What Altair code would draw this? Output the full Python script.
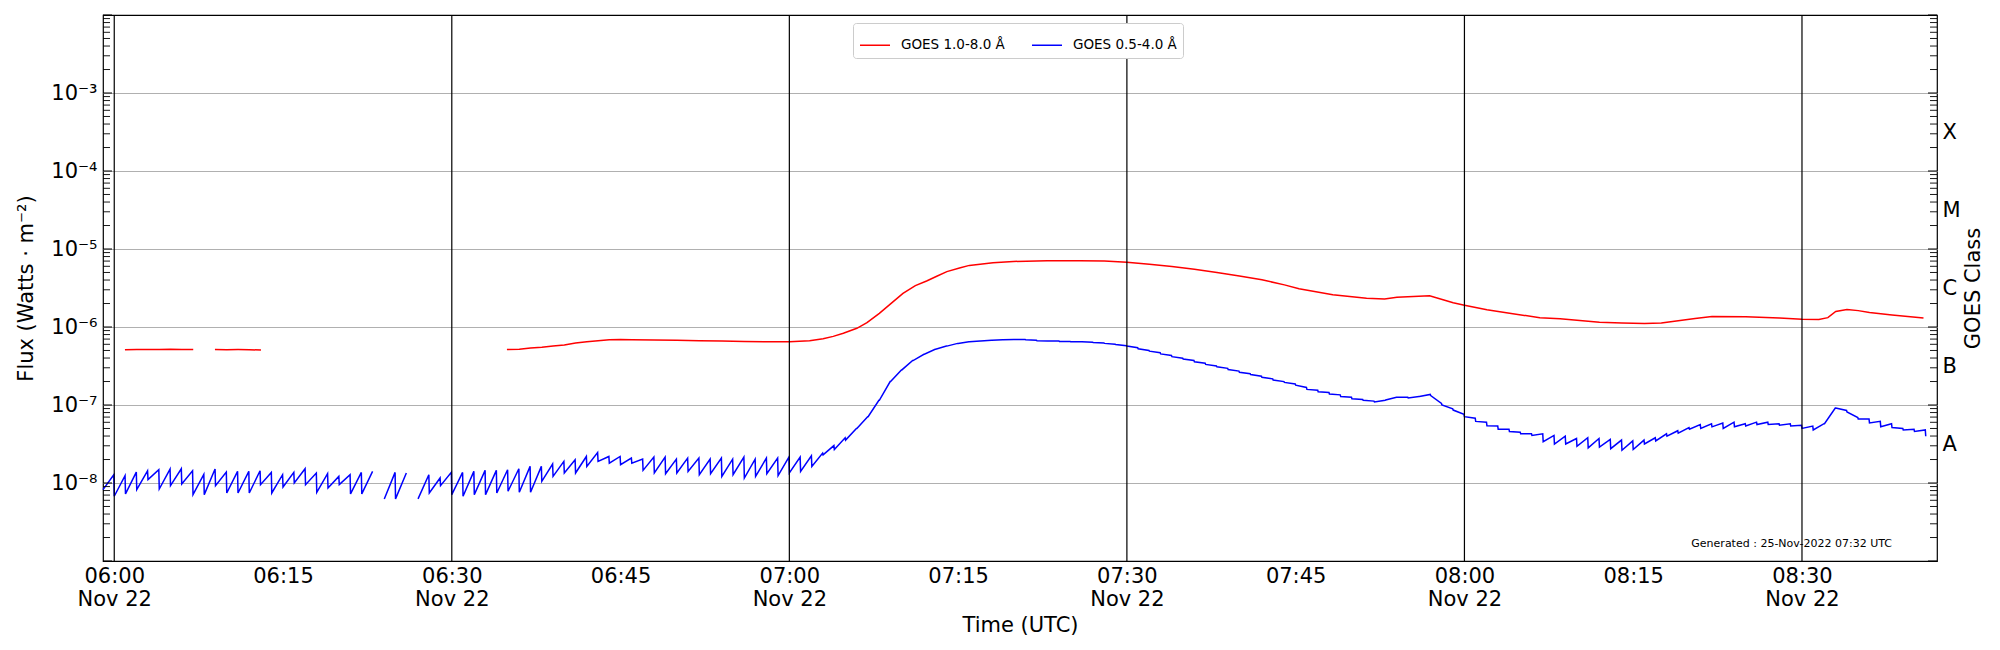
import altair as alt
import pandas as pd

RED = "GOES 1.0-8.0 Å"
BLUE = "GOES 0.5-4.0 Å"
GEN_TEXT = "Generated : 25-Nov-2022 07:32 UTC"

# ---- GOES 1.0-8.0 Å : minutes after 06:00 UTC and log10(flux); None = data gap
red_minutes = [0.95, 2, 3, 4, 5, 6, 7.02, None,
               8.95, 10, 11, 12, 13.04, None,
               34.9, 36, 37, 38, 39, 40, 41, 42, 43, 44, 45, 46, 48, 50, 52, 54, 56, 58, 60,
               61.8, 63.0, 63.9, 64.8, 66.0, 66.9, 68.0, 69.1, 70.1, 71.2, 72.2, 73.1, 74.0,
               75.2, 76.0, 78.1, 79.9, 82.9, 85.8,
               88, 90, 92, 94, 96, 98, 100, 102, 104,
               105.3, 108.3, 111.3, 112.9, 114.0, 116.9, 118.1, 119.0, 120.0, 122.0, 124.3,
               126.7, 128.5,
               132, 134, 136, 137.5, 139, 140.5, 142, 145, 148, 150, 151.5, 152.3, 153.0,
               154.0, 155, 156, 158, 160.8]
red_log10 = [-6.292, -6.29, -6.288, -6.287, -6.285, -6.288, -6.29, None,
             -6.29, -6.292, -6.29, -6.291, -6.295, None,
             -6.29, -6.285, -6.27, -6.26, -6.245, -6.23, -6.205, -6.19, -6.175, -6.165,
             -6.16, -6.163, -6.166, -6.17, -6.175, -6.18, -6.185, -6.19, -6.19,
             -6.176, -6.15, -6.12, -6.08, -6.017, -5.945, -5.825, -5.69, -5.57, -5.47,
             -5.41, -5.35, -5.29, -5.24, -5.21, -5.175, -5.16, -5.15, -5.15,
             -5.155, -5.17, -5.195, -5.225, -5.26, -5.30, -5.345, -5.395, -5.46,
             -5.51, -5.586, -5.63, -5.64, -5.62, -5.60, -5.65, -5.69, -5.72, -5.78, -5.83,
             -5.88, -5.895,
             -5.94, -5.95, -5.955, -5.95, -5.92, -5.89, -5.865, -5.87, -5.885, -5.90,
             -5.905, -5.88, -5.80, -5.775, -5.79, -5.815, -5.845, -5.885]

# ---- GOES 0.5-4.0 Å : one entry per minute, starting at 05:59 UTC.
# value at the start of the minute and value at its end (log10 flux); None = gap
blue_start = [
    -8.085, -8.170, -8.140, -8.085, -7.957, -8.077, -8.034, -8.013, -8.149, -8.149,
    -8.034, -8.128, -8.128, -8.128, -8.021, -8.128, -8.051, -8.000, -8.021, -8.119,
    -8.064, -8.021, -8.140, -8.140, None, -8.204, -8.204, None, -8.204, -8.128,
    -8.034, -8.149, -8.170, -8.149, -8.149, -8.128, -8.106, -8.119, -8.119, -7.979,
    -7.915, -7.872, -7.872, -7.787, -7.723, -7.745, -7.766, -7.745, -7.838, -7.872,
    -7.881, -7.872, -7.851, -7.894, -7.881, -7.915, -7.894, -7.936, -7.915, -7.881,
    -7.906, -7.872, -7.851, -7.787, -7.64, -7.57, -7.45, -7.30, -7.15, -6.94,
    -6.70, -6.55, -6.43, -6.35, -6.285, -6.245, -6.21, -6.19, -6.178, -6.17,
    -6.165, -6.16, -6.165, -6.175, -6.18, -6.185, -6.19, -6.19, -6.20, -6.21,
    -6.225, -6.245, -6.28, -6.31, -6.345, -6.38, -6.41, -6.445, -6.48, -6.51,
    -6.545, -6.58, -6.61, -6.645, -6.68, -6.71, -6.745, -6.80, -6.83, -6.86,
    -6.89, -6.92, -6.94, -6.96, -6.935, -6.90, -6.91, -6.89, -6.88, -7.00,
    -7.065, -7.15, -7.21, -7.265, -7.31, -7.34, -7.37, -7.39, -7.47, -7.50,
    -7.50, -7.53, -7.55, -7.54, -7.56, -7.58, -7.57, -7.50, -7.46, -7.40,
    -7.36, -7.31, -7.30, -7.28, -7.30, -7.28, -7.27, -7.25, -7.25, -7.26,
    -7.27, -7.30, -7.32, -7.24, -7.04, -7.09, -7.18, -7.23, -7.28, -7.29,
    -7.32, -7.34, -7.40]
blue_end = [
    -7.894, -7.906, -7.860, -7.843, -7.830, -7.821, -7.817, -7.843, -7.889, -7.821,
    -7.860, -7.851, -7.851, -7.843, -7.864, -7.894, -7.864, -7.817, -7.872, -7.881,
    -7.915, -7.894, -7.864, -7.851, None, -7.864, -7.872, None, -7.894, -7.936,
    -7.864, -7.864, -7.851, -7.838, -7.838, -7.830, -7.817, -7.787, -7.787, -7.757,
    -7.723, -7.702, -7.660, -7.609, -7.660, -7.660, -7.681, -7.694, -7.668, -7.668,
    -7.694, -7.681, -7.681, -7.694, -7.681, -7.694, -7.668, -7.694, -7.681, -7.681,
    -7.668, -7.668, -7.651, -7.617, -7.52, -7.42, -7.30, -7.15, -6.94, -6.70,
    -6.55, -6.43, -6.35, -6.285, -6.245, -6.21, -6.19, -6.178, -6.17, -6.165,
    -6.16, -6.16, -6.17, -6.18, -6.18, -6.185, -6.19, -6.195, -6.205, -6.22,
    -6.24, -6.265, -6.30, -6.33, -6.365, -6.40, -6.43, -6.465, -6.50, -6.53,
    -6.565, -6.60, -6.63, -6.665, -6.70, -6.73, -6.775, -6.81, -6.84, -6.87,
    -6.90, -6.93, -6.95, -6.94, -6.90, -6.90, -6.89, -6.865, -6.98, -7.05,
    -7.12, -7.17, -7.22, -7.27, -7.31, -7.35, -7.37, -7.37, -7.39, -7.40,
    -7.43, -7.42, -7.43, -7.44, -7.45, -7.46, -7.45, -7.42, -7.37, -7.33,
    -7.29, -7.25, -7.24, -7.23, -7.22, -7.24, -7.22, -7.22, -7.24, -7.24,
    -7.26, -7.27, -7.24, -7.04, -7.07, -7.16, -7.18, -7.21, -7.24, -7.30,
    -7.31, -7.32, None]
BLUE_FIRST_MINUTE = -1

# half-hour marker lines and x tick labels (HH, MM)
vline_times = [(6, 0), (6, 30), (7, 0), (7, 30), (8, 0), (8, 30)]
xtick_times = [(6, 0), (6, 15), (6, 30), (6, 45), (7, 0), (7, 15), (7, 30),
               (7, 45), (8, 0), (8, 15), (8, 30)]
x_start = (5, 59)
x_end = (8, 42)

ydecades = [1e-8, 1e-7, 1e-6, 1e-5, 1e-4, 1e-3]
goes_class_levels = [10 ** -7.5, 10 ** -6.5, 10 ** -5.5, 10 ** -4.5, 10 ** -3.5]

assert len(red_minutes) == len(red_log10)
assert len(blue_start) == len(blue_end)

BASE = pd.Timestamp("2022-11-22T06:00:00Z")


def iso(minutes):
    ts = BASE + pd.Timedelta(minutes=minutes)
    return ts.strftime("%Y-%m-%dT%H:%M:%S.%f")[:-3] + "Z"


def dt(hm):
    return alt.DateTime(year=2022, month=11, date=22, hours=hm[0], minutes=hm[1], utc=True)


rows = []
seg = 0
for m, e in zip(red_minutes, red_log10):
    if m is None:
        seg += 1
        continue
    rows.append({"t": iso(m), "v": 10 ** e, "series": RED, "seg": f"r{seg}"})
seg = 0
for i, (s, e) in enumerate(zip(blue_start, blue_end)):
    m = BLUE_FIRST_MINUTE + i
    if s is None:
        seg += 1
        continue
    rows.append({"t": iso(m), "v": 10 ** s, "series": BLUE, "seg": f"b{seg}"})
    if e is not None:
        rows.append({"t": iso(m + 0.96), "v": 10 ** e, "series": BLUE, "seg": f"b{seg}"})
lines_df = pd.DataFrame(rows)

vl_df = pd.DataFrame({"t": [iso((h - 6) * 60 + mm) for h, mm in vline_times]})

major_ticks = [10.0 ** n for n in range(-9, -1)]
minor_ticks = [k * 10.0 ** n for n in range(-9, -2) for k in range(2, 10)]
major_df = pd.DataFrame({"v": major_ticks})
minor_df = pd.DataFrame({"v": minor_ticks})

W, H = 1834, 546
FONT = "DejaVu Sans"

yscale = alt.Scale(type="log", domain=[1e-9, 1e-2], nice=False)
xscale = alt.Scale(type="utc", domain=[dt(x_start), dt(x_end)], nice=False)

xaxis = alt.Axis(
    values=[dt(v) for v in xtick_times],
    labelExpr=("utcminutes(datum.value) % 30 == 0 ? "
               "[utcFormat(datum.value, '%H:%M'), utcFormat(datum.value, '%b %d')] : "
               "utcFormat(datum.value, '%H:%M')"),
    labelBaseline="top",
    ticks=False, domain=False, grid=False,
    labelFontSize=21, labelFont=FONT, labelColor="black", labelPadding=4,
    labelLineHeight=23, labelFlush=False, labelOverlap=False,
    title="Time (UTC)", titleFontSize=21, titleFont=FONT, titleFontWeight="normal",
    titleColor="black", titleX=W / 2, titleY=64, titleBaseline="middle",
)
xenc = alt.X("t:T", scale=xscale, axis=xaxis)

left_label_expr = (
    "datum.value < 5e-8 ? '10⁻⁸' : datum.value < 5e-7 ? '10⁻⁷' : "
    "datum.value < 5e-6 ? '10⁻⁶' : datum.value < 5e-5 ? '10⁻⁵' : "
    "datum.value < 5e-4 ? '10⁻⁴' : '10⁻³'"
)
yaxis_left = alt.Axis(
    values=ydecades, labelExpr=left_label_expr,
    ticks=False, domain=False, grid=True, gridColor="#b0b0b0", gridWidth=1.1,
    labelFontSize=21, labelFont=FONT, labelColor="black", labelPadding=6,
    title="Flux (Watts · m⁻²)", titleFontSize=21, titleFont=FONT,
    titleFontWeight="normal", titleColor="black", titleAngle=270,
    titleX=-77, titleY=H / 2, titleBaseline="middle", titleAlign="center",
)
right_label_expr = (
    "datum.value < 1e-7 ? 'A' : datum.value < 1e-6 ? 'B' : "
    "datum.value < 1e-5 ? 'C' : datum.value < 1e-4 ? 'M' : 'X'"
)
yaxis_right = alt.Axis(
    orient="right", values=goes_class_levels, labelExpr=right_label_expr,
    ticks=False, domain=False, grid=False,
    labelFontSize=21, labelFont=FONT, labelColor="black", labelPadding=5,
    title="GOES Class", titleFontSize=21, titleFont=FONT, titleFontWeight="normal",
    titleColor="black", titleAngle=270, titleX=36, titleY=H / 2,
    titleBaseline="middle", titleAlign="center",
)

vlines = alt.Chart(vl_df).mark_rule(color="black", strokeWidth=1.2).encode(x=xenc)

lines = alt.Chart(lines_df).mark_line(strokeWidth=1.5).encode(
    x=xenc,
    y=alt.Y("v:Q", scale=yscale, axis=yaxis_left),
    color=alt.Color(
        "series:N",
        scale=alt.Scale(domain=[RED, BLUE], range=["#ff0000", "#0000ff"]),
        legend=alt.Legend(
            title=None, orient="none", legendX=750, legendY=8,
            direction="horizontal", columns=2, symbolType="stroke",
            symbolSize=900, symbolStrokeWidth=1.5, labelFontSize=13.5,
            labelFont=FONT, labelColor="black", labelOffset=10,
            columnPadding=24, padding=6, strokeColor="#cccccc",
            fillColor="white", cornerRadius=3,
        ),
    ),
    detail="seg:N",
)

left_major = alt.Chart(major_df).mark_rule(color="black", strokeWidth=1).encode(
    y=alt.Y("v:Q", scale=yscale, axis=None), x=alt.value(0), x2=alt.value(9))
left_minor = alt.Chart(minor_df).mark_rule(color="black", strokeWidth=0.9).encode(
    y=alt.Y("v:Q", scale=yscale, axis=None), x=alt.value(0), x2=alt.value(7))
right_major = alt.Chart(major_df).mark_rule(color="black", strokeWidth=1).encode(
    y=alt.Y("v:Q", scale=yscale, axis=yaxis_right), x=alt.value(W), x2=alt.value(W - 9))
right_minor = alt.Chart(minor_df).mark_rule(color="black", strokeWidth=0.9).encode(
    y=alt.Y("v:Q", scale=yscale, axis=None), x=alt.value(W), x2=alt.value(W - 7))

gen = alt.Chart(pd.DataFrame({"label": [GEN_TEXT]})).mark_text(
    align="right", baseline="middle", fontSize=11, font=FONT, color="black"
).encode(text="label:N", x=alt.value(1789), y=alt.value(529))

chart = alt.layer(
    lines, vlines, left_major, left_minor, right_major, right_minor, gen
).resolve_scale(y="shared").resolve_axis(y="independent").properties(
    width=W, height=H,
    autosize=alt.AutoSizeParams(type="none"),
    padding={"left": 95, "top": 7, "right": 55, "bottom": 82},
).configure_view(stroke="black", strokeWidth=1.2)

chart.save("out.html", embed_options={"renderer": "svg", "actions": False})
